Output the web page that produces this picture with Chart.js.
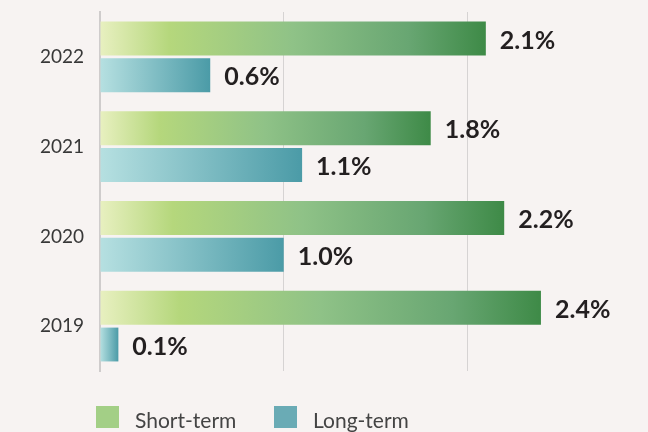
<!DOCTYPE html>
<html>
<head>
<meta charset="utf-8">
<script src="https://cdn.jsdelivr.net/npm/chart.js@4"></script>
<style>
  html, body { margin: 0; padding: 0; background: #f7f3f2; }
  #wrap { width: 648px; height: 432px; }
</style>
</head>
<body>
<div id="wrap"><canvas id="termChart"></canvas></div>
<script>
// Chart data
const years = ['2022', '2021', '2020', '2019'];
const shortTerm = [2.1, 1.8, 2.2, 2.4];
const longTerm = [0.6, 1.1, 1.0, 0.1];
const seriesNames = ['Short-term', 'Long-term'];

// gradient stops for each series (light at the axis, dark at the bar end)
const shortStops = [[0, '#e8f0c0'], [0.18, '#b5d77c'], [0.5, '#8fc287'], [0.8, '#68a672'], [1, '#3e8a47']];
const longStops = [[0, '#b6e0e1'], [1, '#4b9ba7']];
const legendColors = ['#a3cf86', '#6aabb5'];

function barGradient(stops) {
  return (ctx) => {
    const chart = ctx.chart;
    if (!chart.chartArea || ctx.raw == null) return stops[stops.length - 1][1];
    const xs = chart.scales.x;
    const x0 = xs.getPixelForValue(0);
    const x1 = xs.getPixelForValue(ctx.raw);
    const g = chart.ctx.createLinearGradient(x0, 0, Math.max(x1, x0 + 1), 0);
    stops.forEach(s => g.addColorStop(s[0], s[1]));
    return g;
  };
}

// value labels at the end of each bar
const valueLabels = {
  id: 'valueLabels',
  afterDatasetsDraw(chart) {
    const c = chart.ctx;
    c.save();
    c.font = 'bold 25px Lato';
    c.fillStyle = '#231f20';
    c.textBaseline = 'middle';
    chart.data.datasets.forEach((ds, i) => {
      chart.getDatasetMeta(i).data.forEach((bar, j) => {
        c.fillText(ds.data[j].toFixed(1) + '%', bar.x + 14, bar.y + 2);
      });
    });
    c.restore();
  }
};

// legend below the plot
const bottomLegend = {
  id: 'bottomLegend',
  afterDraw(chart) {
    const c = chart.ctx;
    const startX = [96, 274];
    c.save();
    c.font = '21px Lato';
    c.textBaseline = 'alphabetic';
    chart.data.datasets.forEach((ds, i) => {
      c.fillStyle = legendColors[i];
      c.fillRect(startX[i], 406, 23, 22);
      c.fillStyle = '#444';
      c.fillText(ds.label, startX[i] + 39, 428);
    });
    c.restore();
  }
};

const ctx = document.getElementById('termChart').getContext('2d');
const termChart = new Chart(ctx, {
  type: 'bar',
  data: {
    labels: years,
    datasets: [
      { label: seriesNames[0], data: shortTerm, backgroundColor: barGradient(shortStops) },
      { label: seriesNames[1], data: longTerm, backgroundColor: barGradient(longStops) }
    ]
  },
  options: {
    indexAxis: 'y',
    responsive: true,
    maintainAspectRatio: false,
    animation: false,
    categoryPercentage: 0.82,
    barPercentage: 0.92,
    layout: { padding: { top: 12, bottom: 61, right: 6, left: 0 } },
    plugins: {
      legend: { display: false },
      tooltip: { enabled: false }
    },
    scales: {
      x: {
        min: 0,
        max: 2.95,
        ticks: { display: false, stepSize: 1 },
        grid: {
          color: (c) => (c.tick && Number.isInteger(c.tick.value)) ? '#d6d3d3' : 'rgba(0,0,0,0)',
          lineWidth: 1,
          drawTicks: false
        },
        border: { display: false }
      },
      y: {
        afterFit: (s) => { s.width = 100; s.paddingTop = 0; s.paddingBottom = 0; },
        ticks: { color: '#383838', font: { family: 'Lato', size: 19 }, padding: 16 },
        grid: { display: false, drawTicks: false },
        border: { color: '#cfcccc', width: 2 }
      }
    }
  },
  plugins: [valueLabels, bottomLegend]
});
</script>
</body>
</html>
